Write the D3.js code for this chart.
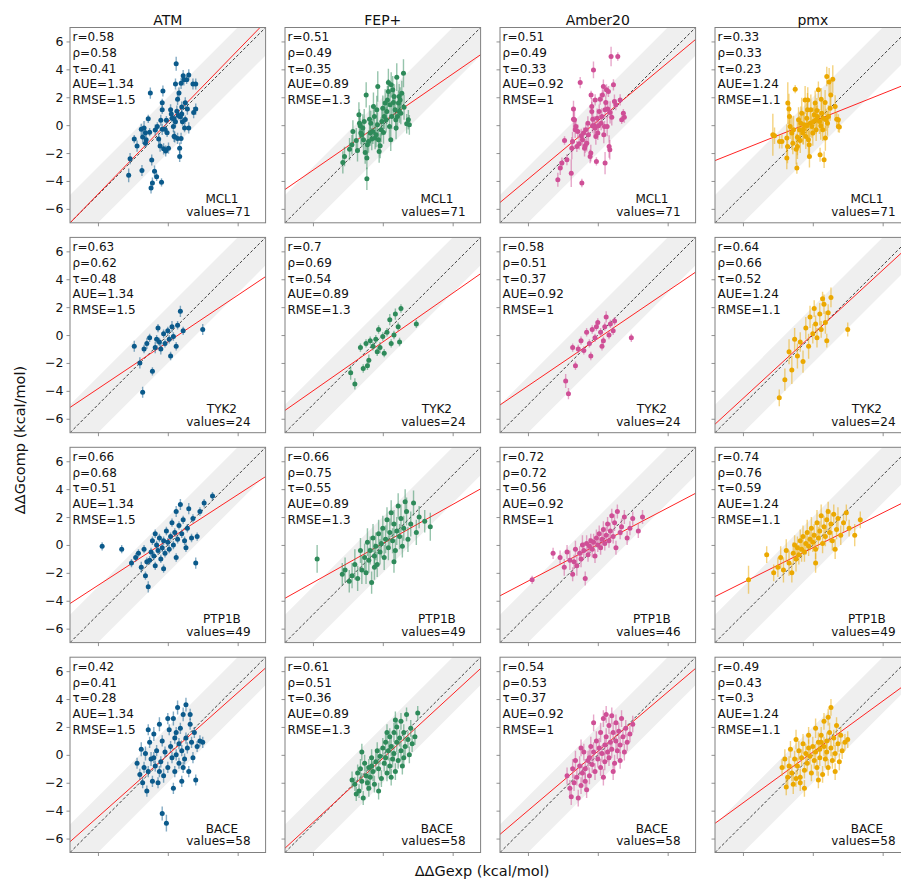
<!DOCTYPE html>
<html>
<head>
<meta charset="utf-8">
<script src="https://cdn.jsdelivr.net/npm/d3@7"></script>
<style>
  body { margin: 0; background: #fff; }
  svg { display: block; }
  text { font-family: "DejaVu Sans", "Liberation Sans", sans-serif; fill: #111; }
</style>
</head>
<body>
<svg id="chart" width="901" height="879"></svg>
<script>
// Methods (columns) and targets (rows)
const methods = ["ATM", "FEP+", "Amber20", "pmx"];
const targets = ["MCL1", "TYK2", "PTP1B", "BACE"];
const methodColors = ["#0b5a8b", "#2e8a5a", "#cf4f96", "#eba800"];

// Summary statistics printed in each panel [target][method]
const pearsonR  = [[0.58, 0.51, 0.51, 0.33], [0.63, 0.7, 0.58, 0.64], [0.66, 0.66, 0.72, 0.74], [0.42, 0.61, 0.54, 0.49]];
const spearmanRho = [[0.58, 0.49, 0.49, 0.33], [0.62, 0.69, 0.51, 0.66], [0.68, 0.75, 0.72, 0.76], [0.41, 0.51, 0.53, 0.43]];
const kendallTau = [[0.41, 0.35, 0.33, 0.23], [0.48, 0.54, 0.37, 0.52], [0.51, 0.55, 0.56, 0.59], [0.28, 0.36, 0.37, 0.3]];
const aueByMethod = ["1.34", "0.89", "0.92", "1.24"];
const rmseByMethod = ["1.5", "1.3", "1", "1.1"];
const valueCounts = [[71, 71, 71, 71], [24, 24, 24, 24], [49, 49, 46, 49], [58, 58, 58, 58]];

// Linear fit of computed vs experimental, per method across targets
const fitSlope = [[1.03, 0.67, 0.65, 0.89], [0.69, 0.70, 0.56, 0.92], [0.835, 0.68, 0.525, 0.85], [0.40, 0.92, 0.50, 0.73]];
const fitIntercept = [[0.2, -0.5, 0.35, 0.0], [0.22, -0.5, 0.1, -0.25], [0.3, -0.25, 0.03, 0.25], [0.26, 0.05, -0.2, 0.2]];

// Points: [ddG_exp, ddG_comp, comp_error] in kcal/mol
const atmMCL1 = [[-2.8,-3.6,0.5],[-2.7,-2.4,0.4],[-2.4,-1.0,0.3],[-2.2,-1.5,0.4],[-1.85,-3.25,0.4],[-1.9,-0.3,0.4],[-1.8,-0.85,0.5],[-1.7,-0.2,0.5],[-1.6,-0.55,0.4],[-1.55,-1.05,0.4],[-1.4,0.45,0.3],[-1.25,2.3,0.4],[-1.3,-0.5,0.3],[-1.15,-2.5,0.4],[-1.2,-4.5,0.4],[-1.1,-4.15,0.4],[-0.95,-3.3,0.4],[-0.8,-3.7,0.3],[-0.9,-0.35,0.4],[-0.75,-0.1,0.3],[-0.65,-1.0,0.4],[-0.55,-1.5,0.4],[-0.45,-4.1,0.3],[-0.5,0.35,0.4],[-0.4,1.1,0.3],[-0.4,1.6,0.3],[-0.35,2.45,0.4],[-0.4,-0.3,0.4],[-0.3,-1.7,0.4],[-0.15,-1.85,0.4],[-0.1,0.35,0.3],[-0.05,-0.55,0.3],[0.05,-1.65,0.4],[0.2,1.1,0.4],[0.25,0.8,0.3],[0.4,-0.1,0.4],[0.45,0.45,0.3],[0.5,-0.85,0.4],[0.55,0.25,0.4],[0.55,2.95,0.4],[0.6,4.4,0.5],[0.65,1.0,0.4],[0.7,-0.95,0.4],[0.7,1.85,0.4],[0.8,2.3,0.4],[0.85,-2.25,0.4],[0.85,-1.65,0.4],[0.9,0.6,0.3],[0.95,3.0,0.4],[1.0,1.3,0.4],[1.05,0.25,0.3],[1.1,3.55,0.4],[1.15,3.25,0.4],[1.2,-0.2,0.3],[1.25,1.6,0.4],[1.35,3.25,0.3],[1.4,1.15,0.4],[1.5,-0.2,0.4],[1.5,3.6,0.4],[1.25,0.4,0.3],[0.45,-0.8,0.4],[0.3,0.5,0.3],[1.8,2.95,0.4],[1.85,0.9,0.4],[2.0,2.95,0.4],[2.0,1.15,0.4],[1.0,0.8,0.3],[0.75,0.7,0.3],[-1.6,-1.3,0.3],[-0.2,-0.3,0.3],[0.95,-0.95,0.4]];
const fepMCL1 = [[-2.86,-2.67,0.8],[-2.74,-2.24,0.7],[-2.38,-1.72,0.8],[-2.21,-1.41,0.7],[-1.9,-1.1,0.9],[-1.81,-1.81,0.8],[-1.71,0.74,0.9],[-1.67,0.14,1.0],[-1.57,-0.57,0.8],[-1.5,-0.69,0.9],[-1.43,-0.21,1.0],[-1.26,-1.96,0.8],[-1.19,2.17,0.9],[-1.14,-2.36,0.8],[-1.14,-3.84,0.8],[-1.1,-1.41,0.9],[-1.02,-1.17,0.8],[-0.95,0.43,1.0],[-0.9,-0.57,0.9],[-0.86,0.14,0.9],[-0.79,-1.0,0.8],[-0.71,-0.45,0.9],[-0.67,1.34,1.0],[-0.6,0.62,0.9],[-0.55,-0.93,0.8],[-0.48,-0.69,0.9],[-0.43,1.1,1.0],[-0.38,0.02,0.9],[-0.36,2.77,1.1],[-0.31,-1.05,0.8],[-0.26,-1.89,0.8],[-0.19,-1.48,0.9],[-0.12,-0.33,0.9],[-0.07,0.26,1.0],[0.0,1.22,0.9],[0.05,-0.53,0.8],[0.1,0.62,0.9],[0.17,1.58,1.0],[0.24,0.38,0.9],[0.29,0.98,0.9],[0.33,1.81,1.0],[0.4,2.41,0.9],[0.4,3.05,1.0],[0.48,-0.1,0.8],[0.52,1.46,0.9],[0.57,-1.05,0.8],[0.6,2.89,0.9],[0.64,0.62,0.9],[0.71,2.53,1.0],[0.76,1.62,0.9],[0.81,2.05,0.9],[0.88,1.1,0.9],[0.93,0.38,0.8],[0.95,-0.21,0.8],[1.0,3.44,1.0],[1.05,0.62,0.9],[1.12,1.58,0.9],[1.17,2.05,0.9],[1.19,0.98,0.8],[1.24,1.81,0.9],[1.29,0.86,0.8],[1.36,2.29,0.9],[1.48,3.72,1.0],[1.52,1.29,0.9],[1.71,0.1,0.7],[1.83,0.38,0.7],[1.9,0.02,0.7],[-2.14,-0.45,0.8],[-1.33,0.26,0.9],[-1.62,-0.05,0.9],[-1.38,-1.05,0.8]];
const amberMCL1 = [[-2.86,-3.91,0.5],[-2.69,-3.08,0.5],[-2.57,-2.72,0.4],[-2.38,-1.1,0.3],[-2.21,-2.48,0.4],[-1.9,-3.44,1.0],[-1.86,-1.65,0.8],[-1.81,-1.17,0.7],[-1.74,1.15,0.6],[-1.74,0.43,0.7],[-1.67,0.38,0.8],[-1.62,-0.33,0.6],[-1.57,-0.1,0.5],[-1.5,-1.53,0.4],[-1.43,-0.45,0.5],[-1.33,-1.34,0.4],[-1.26,3.05,0.4],[-1.19,-0.76,0.5],[-1.14,-4.15,0.3],[-1.1,-1.05,0.5],[-1.02,-0.57,0.4],[-0.95,-1.65,0.6],[-0.9,-1.48,0.5],[-0.86,-0.33,0.4],[-0.79,-1.29,0.6],[-0.71,0.14,0.5],[-0.67,-0.69,0.6],[-0.55,-2.24,0.5],[-0.5,-2.0,0.6],[-0.48,2.17,0.3],[-0.43,1.34,0.6],[-0.43,0.98,0.7],[-0.38,-0.05,0.5],[-0.36,0.43,0.6],[-0.31,3.96,0.6],[-0.26,-0.05,0.7],[-0.19,1.81,0.4],[-0.19,-0.21,0.5],[-0.14,-0.81,0.6],[-0.1,-2.6,0.3],[-0.05,0.5,0.7],[0.0,-0.57,0.5],[0.05,-0.05,0.4],[0.1,0.98,0.5],[0.17,1.86,0.4],[0.24,0.14,0.5],[0.29,0.62,0.6],[0.33,2.17,0.4],[0.4,2.77,0.5],[0.43,-0.69,0.6],[0.48,-0.1,0.4],[0.52,-2.72,0.8],[0.57,1.62,0.5],[0.62,2.53,0.4],[0.67,-0.1,0.7],[0.71,1.15,0.6],[0.76,2.41,0.4],[0.81,-1.53,0.8],[0.86,-1.77,0.7],[0.88,0.91,0.8],[0.95,4.92,0.7],[1.0,0.57,0.6],[1.12,2.89,0.4],[1.19,1.69,0.5],[1.29,1.46,0.4],[1.43,4.92,0.3],[1.6,1.81,0.4],[1.71,0.38,0.3],[1.83,0.86,0.3],[1.9,0.57,0.4],[0.52,1.1,0.6]];
const pmxMCL1 = [[-2.86,-0.69,1.5],[-2.74,-0.76,0.6],[-2.38,-1.17,0.5],[-2.21,-1.17,0.5],[-1.86,-0.93,1.0],[-1.86,-2.36,0.8],[-1.81,-1.53,1.2],[-1.79,1.58,1.5],[-1.71,1.15,1.1],[-1.67,0.62,1.0],[-1.62,-0.1,0.9],[-1.5,-0.57,1.2],[-1.43,-1.29,0.8],[-1.26,2.58,0.3],[-1.19,-1.72,1.1],[-1.14,-3.08,0.4],[-1.1,-0.86,1.3],[-1.02,0.38,0.9],[-0.95,-0.33,1.0],[-0.9,-1.1,0.9],[-0.86,0.14,1.2],[-0.79,0.86,1.1],[-0.71,-0.57,0.8],[-0.67,-0.29,1.1],[-0.6,0.02,0.9],[-0.55,1.81,1.0],[-0.5,-0.81,0.9],[-0.43,0.5,1.1],[-0.38,1.1,1.2],[-0.36,1.81,0.9],[-0.31,-1.05,1.2],[-0.26,-1.41,1.0],[-0.24,-2.24,0.8],[-0.19,0.14,1.0],[-0.14,1.1,1.1],[-0.07,-0.1,0.8],[0.0,-0.57,0.9],[0.05,0.26,1.0],[0.1,0.74,0.8],[0.17,1.58,0.9],[0.24,0.38,1.0],[0.29,1.05,0.9],[0.33,0.62,0.8],[0.4,2.53,0.6],[0.48,0.26,0.9],[0.52,-2.12,0.5],[0.57,-0.05,1.0],[0.6,1.86,0.8],[0.64,0.86,0.9],[0.71,-0.33,0.8],[0.76,0.5,1.0],[0.81,-2.48,0.6],[0.88,1.62,0.9],[0.9,-0.93,0.9],[0.95,0.38,0.8],[1.0,3.48,0.7],[1.05,0.14,0.9],[1.12,0.62,0.8],[1.17,3.1,1.0],[1.24,1.22,0.9],[1.29,2.17,0.8],[1.43,3.29,1.0],[1.6,1.34,0.8],[1.71,0.43,0.5],[1.83,-0.1,0.4],[1.9,-0.14,0.4],[1.83,0.38,0.4],[0.24,-0.33,0.8],[-0.43,-0.05,0.9],[-1.38,-0.33,1.0],[-1.1,-1.53,0.9]];

const atmTYK2 = [[-2.4,-0.8,0.4],[-2.0,-2.0,0.4],[-1.8,-4.1,0.4],[-1.7,-1.0,0.3],[-1.5,-0.6,0.4],[-1.3,-0.2,0.3],[-1.1,-2.6,0.3],[-0.9,-0.9,0.4],[-0.8,-0.3,0.3],[-0.6,-0.5,0.3],[-0.5,-1.0,0.4],[-0.3,0.1,0.3],[-0.2,-0.6,0.3],[0.0,0.3,0.3],[0.1,-0.3,0.3],[0.3,0.6,0.4],[0.4,-0.1,0.3],[0.6,-0.8,0.3],[0.7,0.7,0.3],[0.9,1.7,0.4],[0.2,-1.5,0.3],[-0.7,0.5,0.3],[1.1,0.3,0.3],[2.5,0.4,0.4]];
const fepTYK2 = [[-2.3,-2.7,0.5],[-2.0,-3.5,0.4],[-1.6,-0.9,0.3],[-1.4,-2.4,0.3],[-1.2,-0.6,0.3],[-1.0,-1.8,0.4],[-0.9,-0.4,0.3],[-0.7,-0.8,0.3],[-0.5,-0.3,0.3],[-0.3,0.4,0.3],[-0.2,-0.9,0.4],[0.0,-0.1,0.3],[0.1,-1.3,0.3],[0.3,0.2,0.3],[0.5,1.1,0.4],[0.6,-0.6,0.3],[0.8,0.0,0.3],[0.9,1.5,0.4],[1.1,0.6,0.3],[1.3,1.9,0.3],[-1.1,-2.2,0.3],[-0.4,-1.2,0.3],[1.2,-0.5,0.3],[2.4,0.8,0.3]];
const amberTYK2 = [[-2.3,-3.3,0.5],[-2.1,-4.2,0.4],[-1.8,-0.9,0.3],[-1.6,-2.2,0.3],[-1.4,-1.0,0.3],[-1.2,-0.4,0.3],[-1.0,-1.1,0.3],[-0.8,0.2,0.3],[-0.6,-0.6,0.3],[-0.4,0.4,0.3],[-0.2,-0.2,0.3],[0.0,0.9,0.3],[0.2,0.2,0.3],[0.3,-0.8,0.3],[0.5,0.6,0.3],[0.6,1.3,0.4],[0.8,0.0,0.3],[0.9,0.8,0.3],[1.1,0.3,0.3],[0.4,-0.4,0.3],[-0.5,-1.5,0.3],[1.2,1.0,0.3],[-0.1,0.6,0.3],[2.4,-0.2,0.3]];
const pmxTYK2 = [[-2.4,-4.5,0.6],[-2.0,-3.2,0.8],[-1.7,-1.2,0.9],[-1.5,-2.5,1.0],[-1.3,-0.3,0.8],[-1.1,-1.5,0.9],[-0.9,-0.5,0.7],[-0.7,-1.9,0.8],[-0.5,0.5,0.8],[-0.3,-0.8,0.9],[-0.2,1.3,0.8],[0.0,0.1,0.7],[0.2,0.8,0.6],[0.3,-0.2,0.7],[0.5,1.5,0.8],[0.6,0.4,0.6],[0.8,2.2,0.7],[0.9,0.9,0.8],[1.1,1.6,0.6],[1.3,2.7,0.7],[0.7,2.6,0.5],[0.1,1.9,0.6],[1.0,-0.4,0.5],[2.5,0.4,0.5]];

const atmPTP1B = [[-4.7,-0.1,0.3],[-3.3,-0.3,0.3],[-2.6,-1.3,0.3],[-2.3,-0.9,0.3],[-2.1,-0.6,0.3],[-1.9,-1.6,0.4],[-1.7,-0.3,0.3],[-1.6,-2.2,0.3],[-1.4,-3.0,0.4],[-1.3,-1.1,0.3],[-1.2,-0.5,0.3],[-1.1,0.3,0.3],[-1.0,-0.8,0.3],[-0.9,-1.5,0.3],[-0.8,0.0,0.3],[-0.7,-0.4,0.3],[-0.6,0.5,0.3],[-0.5,-1.0,0.3],[-0.4,-0.2,0.3],[-0.3,0.3,0.3],[-0.2,-0.6,0.3],[-0.1,1.0,0.3],[0.0,0.2,0.3],[0.1,-0.3,0.3],[0.2,0.6,0.3],[0.3,1.6,0.3],[0.4,0.0,0.3],[0.5,0.9,0.3],[0.6,2.4,0.4],[0.7,0.4,0.3],[0.8,1.4,0.3],[0.9,2.9,0.4],[1.0,0.8,0.3],[1.1,1.8,0.3],[1.2,0.3,0.3],[1.4,1.2,0.3],[1.5,2.6,0.4],[1.7,0.5,0.3],[1.8,1.9,0.3],[2.0,-1.3,0.4],[2.1,0.6,0.3],[2.3,2.4,0.3],[2.6,3.0,0.3],[3.2,3.5,0.3],[-0.3,-1.7,0.3],[-1.5,-1.2,0.3],[0.6,-0.9,0.3],[1.3,-0.2,0.3],[-0.9,0.8,0.3]];
const fepPTP1B = [[-4.7,-1.0,1.0],[-2.7,-1.8,0.9],[-2.4,-2.6,0.8],[-2.2,-2.2,0.9],[-2.0,-1.4,1.1],[-1.8,-2.4,0.9],[-1.6,-0.4,0.9],[-1.5,-1.8,1.0],[-1.3,-0.9,1.0],[-1.2,-2.0,0.8],[-1.1,0.2,1.0],[-1.0,-1.1,0.9],[-0.9,-0.4,1.0],[-0.8,-2.7,0.8],[-0.7,0.5,1.0],[-0.6,-0.8,0.9],[-0.5,-0.1,1.0],[-0.4,-1.4,0.9],[-0.3,0.8,1.0],[-0.2,-0.5,0.9],[-0.1,0.1,1.0],[0.0,1.2,0.9],[0.1,-0.9,0.9],[0.2,0.4,1.0],[0.3,1.8,0.9],[0.4,-0.2,0.9],[0.5,0.9,1.0],[0.6,2.3,0.9],[0.7,0.3,0.9],[0.8,1.5,1.0],[0.9,-0.4,0.8],[1.0,1.0,1.0],[1.1,2.8,0.9],[1.2,0.6,0.9],[1.3,1.9,1.0],[1.4,-0.1,0.8],[1.5,1.2,0.9],[1.7,2.4,1.0],[1.8,0.4,0.9],[2.0,1.5,0.9],[2.2,3.0,0.9],[2.4,0.9,0.9],[2.6,2.0,0.8],[3.0,1.7,0.8],[3.4,1.3,1.0],[-2.9,-2.1,0.8],[-0.6,-1.6,0.9],[0.8,-1.2,0.8],[1.6,3.1,0.9]];
const amberPTP1B = [[-4.7,-2.5,0.3],[-3.2,-0.6,0.4],[-2.7,-0.9,0.5],[-2.4,-1.6,0.6],[-2.2,-0.5,0.5],[-2.0,-1.1,0.7],[-1.8,-2.1,0.5],[-1.6,-0.3,0.6],[-1.5,-1.5,0.7],[-1.3,-0.6,0.5],[-1.2,-1.0,0.6],[-1.1,0.0,0.7],[-1.0,-0.4,0.6],[-0.9,-2.4,0.5],[-0.8,0.1,0.6],[-0.7,-0.7,0.5],[-0.6,-0.1,0.6],[-0.5,0.3,0.5],[-0.4,-0.3,0.6],[-0.3,0.2,0.6],[-0.2,-0.8,0.5],[-0.1,0.5,0.6],[0.0,0.0,0.5],[0.1,0.8,0.6],[0.2,-0.2,0.5],[0.3,0.4,0.6],[0.4,1.1,0.6],[0.5,0.1,0.5],[0.6,0.7,0.6],[0.7,1.5,0.5],[0.8,0.3,0.5],[0.9,1.0,0.6],[1.0,2.1,0.5],[1.1,0.6,0.5],[1.2,1.6,0.6],[1.3,-0.2,0.5],[1.4,2.4,0.5],[1.6,0.9,0.5],[1.7,1.3,0.6],[1.9,2.0,0.5],[2.1,0.5,0.5],[2.3,1.2,0.5],[2.5,1.9,0.5],[2.9,1.0,0.5],[3.2,2.0,0.5],[-1.7,-1.2,0.5]];
const pmxPTP1B = [[-4.6,-2.5,1.0],[-3.3,-0.7,0.6],[-2.5,-1.6,0.7],[-2.3,-0.9,0.8],[-2.1,-1.8,0.9],[-1.9,-0.4,0.8],[-1.7,-1.3,0.9],[-1.5,-2.0,0.7],[-1.4,-0.6,0.8],[-1.3,0.0,0.7],[-1.2,-1.0,0.9],[-1.1,-0.2,0.8],[-1.0,-0.7,0.7],[-0.9,0.3,0.8],[-0.8,-0.3,0.9],[-0.7,0.6,0.8],[-0.6,-0.5,0.7],[-0.5,0.1,0.8],[-0.4,0.9,0.9],[-0.3,-0.1,0.7],[-0.2,0.4,0.8],[-0.1,1.2,0.8],[0.0,0.2,0.7],[0.1,0.7,0.8],[0.2,-0.3,0.7],[0.3,1.6,0.9],[0.4,0.5,0.8],[0.5,1.0,0.7],[0.6,2.1,0.8],[0.7,0.1,0.7],[0.8,1.3,0.8],[0.9,0.6,0.7],[1.0,1.8,0.8],[1.1,2.4,0.7],[1.2,0.9,0.7],[1.3,1.5,0.8],[1.4,0.3,0.7],[1.5,2.2,0.7],[1.7,1.1,0.7],[1.8,1.9,0.8],[2.0,0.7,0.7],[2.2,1.6,0.7],[2.4,2.3,0.6],[2.6,1.2,0.6],[3.0,0.7,0.8],[3.4,1.8,0.6],[-2.8,-2.0,0.6],[0.2,-1.3,0.7],[1.6,-0.3,0.7]];

const atmBACE = [[-2.2,-0.6,0.4],[-2.0,-1.4,0.4],[-1.9,0.4,0.5],[-1.8,-2.0,0.4],[-1.7,-0.9,0.4],[-1.6,0.1,0.5],[-1.5,-2.6,0.4],[-1.4,-1.2,0.4],[-1.3,0.9,0.4],[-1.2,-0.3,0.5],[-1.1,-1.9,0.4],[-1.0,1.5,0.5],[-0.9,-0.8,0.4],[-0.8,0.3,0.4],[-0.7,-2.0,0.4],[-0.6,2.2,0.5],[-0.5,-0.5,0.4],[-0.4,1.0,0.4],[-0.3,-1.5,0.5],[-0.2,0.2,0.4],[-0.4,-4.2,0.5],[0.0,-0.9,0.4],[0.1,1.8,0.4],[-0.1,-4.9,0.6],[0.2,0.6,0.4],[0.3,-0.2,0.4],[0.4,2.6,0.5],[0.5,-1.2,0.4],[0.5,1.2,0.4],[0.6,0.0,0.4],[0.7,3.4,0.5],[0.8,-0.6,0.4],[0.8,0.8,0.4],[0.9,1.9,0.4],[1.0,-1.9,0.4],[1.0,0.3,0.4],[1.1,2.9,0.5],[1.2,-0.3,0.4],[1.3,1.2,0.4],[1.3,3.6,0.5],[1.4,0.5,0.4],[1.5,-1.2,0.4],[1.6,2.2,0.4],[1.7,0.9,0.4],[1.8,-0.2,0.4],[1.9,1.6,0.4],[2.0,-1.8,0.4],[2.1,0.6,0.4],[2.3,1.0,0.4],[2.5,0.9,0.4],[-1.0,-0.2,0.4],[-0.6,-1.2,0.4],[0.0,2.6,0.4],[0.4,-2.4,0.4],[1.1,-0.9,0.4],[-1.4,1.8,0.4],[0.6,1.6,0.4],[1.6,2.9,0.4]];
const fepBACE = [[-2.2,-1.8,0.6],[-2.0,-2.1,0.5],[-1.8,-1.3,0.6],[-1.7,-2.6,0.5],[-1.6,-1.0,0.7],[-1.5,-1.9,0.6],[-1.4,-3.1,0.5],[-1.3,-0.6,0.6],[-1.2,-1.5,0.7],[-1.1,-2.0,0.6],[-1.0,-0.9,0.6],[-0.9,-1.6,0.7],[-0.8,-0.2,0.6],[-0.7,-1.2,0.7],[-0.6,-2.1,0.6],[-0.5,-0.5,0.7],[-0.4,0.3,0.6],[-0.3,-1.0,0.7],[-0.2,-0.1,0.6],[-0.1,-1.7,0.6],[0.0,0.5,0.7],[0.1,-0.6,0.6],[0.2,0.9,0.7],[0.2,-0.2,0.6],[0.3,-1.3,0.6],[0.4,0.3,0.7],[0.5,1.3,0.6],[0.5,-0.8,0.6],[0.6,0.6,0.7],[0.7,-0.3,0.6],[0.8,1.6,0.7],[0.8,0.1,0.6],[0.9,-1.2,0.6],[1.0,0.9,0.7],[1.0,2.0,0.6],[1.1,-0.4,0.6],[1.2,1.2,0.6],[1.3,0.3,0.7],[1.3,2.4,0.6],[1.4,-0.8,0.6],[1.5,1.6,0.6],[1.6,0.6,0.7],[1.7,2.9,0.5],[1.8,1.1,0.6],[1.9,0.0,0.6],[2.0,1.9,0.6],[2.1,0.8,0.6],[2.3,1.3,0.6],[2.5,3.0,0.5],[-1.9,-2.8,0.5],[-1.0,-2.4,0.6],[-0.3,-2.6,0.6],[0.3,1.6,0.6],[0.9,2.5,0.6],[1.5,-0.2,0.6],[-0.8,-0.8,0.6],[0.6,-1.6,0.6],[-1.5,0.2,0.6]];
const amberBACE = [[-2.2,-1.5,0.6],[-2.0,-2.4,0.6],[-1.8,-1.0,0.7],[-1.7,-2.0,0.6],[-1.6,-0.4,0.7],[-1.5,-1.6,0.6],[-1.4,-3.1,0.6],[-1.3,-0.8,0.7],[-1.2,-2.2,0.6],[-1.1,-1.3,0.7],[-1.0,0.2,0.6],[-0.9,-1.0,0.7],[-0.8,-2.5,0.6],[-0.7,-0.4,0.7],[-0.6,-1.5,0.6],[-0.5,0.6,0.7],[-0.4,-0.7,0.6],[-0.3,0.2,0.7],[-0.2,-1.2,0.6],[-0.1,1.0,0.7],[0.0,-0.3,0.6],[0.1,0.5,0.7],[0.2,-0.9,0.6],[0.2,1.6,0.7],[0.3,0.1,0.6],[0.4,2.6,0.6],[0.5,0.7,0.7],[0.5,-0.5,0.6],[0.6,1.3,0.6],[0.7,0.2,0.7],[0.8,2.1,0.6],[0.8,-0.2,0.6],[0.9,0.9,0.7],[1.0,2.8,0.6],[1.0,0.4,0.6],[1.1,1.6,0.7],[1.2,-0.6,0.6],[1.3,1.0,0.6],[1.3,2.3,0.6],[1.4,0.3,0.6],[1.5,1.7,0.6],[1.6,0.7,0.6],[1.7,2.6,0.6],[1.8,1.3,0.6],[1.9,0.2,0.6],[2.0,1.9,0.6],[2.1,0.9,0.6],[2.3,1.5,0.6],[2.5,2.2,0.6],[-1.9,-3.0,0.6],[-0.9,-1.9,0.6],[-0.3,2.3,0.6],[0.4,-1.6,0.6],[1.1,-1.2,0.6],[-1.2,0.5,0.6],[0.6,2.9,0.6],[1.6,-0.4,0.6],[-0.6,-0.2,0.6]];
const pmxBACE = [[-2.2,-0.9,0.6],[-2.0,-0.3,0.7],[-1.8,-1.6,0.6],[-1.7,-0.8,0.7],[-1.6,0.4,0.6],[-1.5,-1.3,0.6],[-1.4,-2.1,0.7],[-1.3,-0.3,0.6],[-1.2,1.1,0.7],[-1.1,-0.8,0.6],[-1.0,0.3,0.7],[-0.9,-1.6,0.6],[-0.8,-0.2,0.6],[-0.7,0.8,0.7],[-0.6,-1.1,0.6],[-0.5,0.1,0.7],[-0.4,-0.6,0.6],[-0.3,1.4,0.6],[-0.2,-0.1,0.6],[-0.1,-1.3,0.6],[0.0,0.6,0.7],[0.1,-0.4,0.6],[0.2,0.2,0.6],[0.2,1.9,0.7],[0.3,-0.9,0.6],[0.4,0.9,0.7],[0.5,-0.2,0.6],[0.5,0.4,0.6],[0.6,1.4,0.6],[0.7,-1.4,0.6],[0.8,0.6,0.7],[0.8,2.4,0.6],[0.9,-0.3,0.6],[1.0,1.0,0.6],[1.0,0.2,0.6],[1.1,-0.9,0.6],[1.2,1.6,0.7],[1.3,0.5,0.6],[1.3,3.4,0.6],[1.4,-0.4,0.6],[1.5,1.2,0.6],[1.6,0.1,0.6],[1.7,2.1,0.6],[1.8,0.8,0.6],[1.9,-0.5,0.6],[2.0,1.4,0.6],[2.1,0.3,0.6],[2.3,0.9,0.6],[2.5,1.1,0.6],[-1.9,-2.3,0.6],[-0.9,-2.0,0.6],[-0.3,0.5,0.6],[0.4,-1.8,0.6],[1.1,2.7,0.6],[-1.2,-1.7,0.6],[0.6,0.9,0.6],[1.6,-1.2,0.6],[-0.6,-2.4,0.6]];

const panelData = [
  [atmMCL1, fepMCL1, amberMCL1, pmxMCL1],
  [atmTYK2, fepTYK2, amberTYK2, pmxTYK2],
  [atmPTP1B, fepPTP1B, amberPTP1B, pmxPTP1B],
  [atmBACE, fepBACE, amberBACE, pmxBACE]
];

const yTickValues = [-6, -4, -2, 0, 2, 4, 6];
const xTickValues = [-5, 0, 5];
const lim = 7;        // axis limits ±7 kcal/mol
const bandHalf = 2;   // shaded ±2 kcal/mol region around the identity line

// Grid geometry
const panelW = 195.6, panelH = 195.3;
const colX = [70, 285, 500, 715];
const rowY = [27.5, 237.4, 447.3, 657.2];

const svg = d3.select("#chart");
const x = d3.scaleLinear().domain([-lim, lim]).range([0, panelW]);
const y = d3.scaleLinear().domain([-lim, lim]).range([panelH, 0]);

svg.append("defs").append("clipPath").attr("id", "plot-clip")
  .append("rect").attr("width", panelW).attr("height", panelH);

const line = d3.line().x(d => x(d[0])).y(d => y(d[1]));

targets.forEach((target, ti) => {
  methods.forEach((method, mi) => {
    const g = svg.append("g").attr("transform", `translate(${colX[mi]},${rowY[ti]})`);
    const color = methodColors[mi];
    const plot = g.append("g").attr("clip-path", "url(#plot-clip)");

    // shaded band around the identity line
    const band = [[-lim, -lim + bandHalf], [lim - bandHalf, lim], [lim, lim], [lim, lim - bandHalf], [-lim + bandHalf, -lim], [-lim, -lim]];
    plot.append("path").attr("d", line(band) + "Z").attr("fill", "#efefef");

    // identity line
    plot.append("path").attr("d", line([[-lim, -lim], [lim, lim]]))
      .attr("stroke", "#111").attr("stroke-width", 0.8).attr("stroke-dasharray", "3,2").attr("fill", "none");

    // regression line
    const s = fitSlope[mi][ti], b = fitIntercept[mi][ti];
    plot.append("path").attr("d", line([[-lim - 1, s * (-lim - 1) + b], [lim + 1, s * (lim + 1) + b]]))
      .attr("stroke", "#f22").attr("stroke-width", 1).attr("fill", "none");

    const pts = panelData[ti][mi];
    // error bars
    plot.append("g").selectAll("line").data(pts).join("line")
      .attr("x1", d => x(d[0])).attr("x2", d => x(d[0]))
      .attr("y1", d => y(d[1] - d[2])).attr("y2", d => y(d[1] + d[2]))
      .attr("stroke", color).attr("stroke-opacity", 0.5).attr("stroke-width", 1.4);
    // points
    plot.append("g").selectAll("circle").data(pts).join("circle")
      .attr("cx", d => x(d[0])).attr("cy", d => y(d[1])).attr("r", 2.5)
      .attr("fill", color);

    // axes
    const yAxis = d3.axisLeft(y).tickValues(yTickValues).tickSize(3.5).tickPadding(3)
      .tickFormat(mi === 0 ? d3.format("d") : () => "");
    const gy = g.append("g").call(yAxis);
    const xAxis = d3.axisBottom(x).tickValues(xTickValues).tickSize(3.5).tickFormat(() => "");
    const gx = g.append("g").attr("transform", `translate(0,${panelH})`).call(xAxis);
    [gx, gy].forEach(a => {
      a.select(".domain").remove();
      a.selectAll(".tick line").attr("stroke", "#777").attr("stroke-width", 0.8);
      a.selectAll(".tick text").attr("font-size", 12.5).attr("fill", "#111")
        .attr("font-family", '"DejaVu Sans", sans-serif');
    });

    // frame
    g.append("rect").attr("width", panelW).attr("height", panelH)
      .attr("fill", "none").attr("stroke", "#808080").attr("stroke-width", 1);

    // statistics block
    const stats = [
      `r=${pearsonR[ti][mi]}`,
      `ρ=${spearmanRho[ti][mi]}`,
      `τ=${kendallTau[ti][mi]}`,
      `AUE=${aueByMethod[mi]}`,
      `RMSE=${rmseByMethod[mi]}`
    ];
    g.append("g").selectAll("text").data(stats).join("text")
      .attr("x", 2.5).attr("y", (d, i) => 13.8 + i * 15.7)
      .attr("font-size", 12).text(d => d);

    // target name and count, lower right
    const valuesText = g.append("text").attr("font-size", 12)
      .attr("y", panelH - 7).text(`values=${valueCounts[ti][mi]}`);
    const w = valuesText.node().getComputedTextLength();
    const cx = panelW - 15 - w / 2;
    valuesText.attr("x", cx).attr("text-anchor", "middle");
    g.append("text").attr("font-size", 12).attr("x", cx + 3.5).attr("y", panelH - 19.5)
      .attr("text-anchor", "middle").text(target);

    // column title
    if (ti === 0) {
      g.append("text").attr("x", panelW / 2).attr("y", -2.5).attr("text-anchor", "middle")
        .attr("font-size", 14).text(method);
    }
  });
});

// shared axis labels
svg.append("text").attr("text-anchor", "middle").attr("font-size", 14.5)
  .attr("transform", "translate(25,440) rotate(-90)").text("ΔΔGcomp (kcal/mol)");
svg.append("text").attr("text-anchor", "middle").attr("font-size", 14.5)
  .attr("x", 482).attr("y", 876).text("ΔΔGexp (kcal/mol)");
</script>
</body>
</html>
